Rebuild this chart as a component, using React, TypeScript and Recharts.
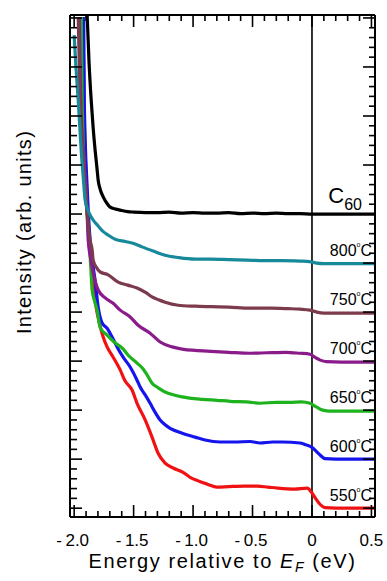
import { LineChart, Line, XAxis, YAxis, ReferenceLine, ReferenceDot } from 'recharts';

const FONT = '"Liberation Sans", Arial, Helvetica, sans-serif';

// axis ticks
const xTicks = [
  -2.0, -1.9, -1.8, -1.7, -1.6, -1.5, -1.4, -1.3, -1.2, -1.1, -1.0, -0.9, -0.8,
  -0.7, -0.6, -0.5, -0.4, -0.3, -0.2, -0.1, 0, 0.1, 0.2, 0.3, 0.4, 0.5,
];
const xMajorTicks = [-2.0, -1.5, -1.0, -0.5, 0, 0.5];
const xTickLabels = ['-2.0', '-1.5', '-1.0', '-0.5', '0', '0.5'];
const yTicks = Array.from({ length: 51 }, (_, i) => Math.round(i * 2) / 10);

// curve labels, placed at the level each spectrum settles to above E_F
const seriesNames = ['C60', '800', '750', '700', '650', '600', '550'];
const labelLevels = [6, 5, 4, 3, 2, 1, 0];
const seriesColors = ['#000000', '#17899b', '#7c3a4d', '#8a1b8a', '#1fb21f', '#1414ee', '#f01212'];

// [energy (eV), intensity (arb., offset)]
const c60: [number, number][] = [
  [-1.905, 10.6], [-1.891, 10.06], [-1.875, 9.1], [-1.857, 8.33], [-1.84, 7.75],
  [-1.824, 7.31], [-1.81, 6.98], [-1.798, 6.69], [-1.778, 6.48], [-1.756, 6.35],
  [-1.725, 6.22], [-1.697, 6.14], [-1.65, 6.1], [-1.613, 6.08], [-1.55, 6.05],
  [-1.5, 6.04], [-1.4, 6.03], [-1.3, 6.03], [-1.2, 6.04], [-1.1, 6.02], [-1.0, 6.03],
  [-0.9, 6.02], [-0.8, 6.02], [-0.7, 6.03], [-0.6, 6.01], [-0.5, 6.02], [-0.4, 6.01],
  [-0.3, 6.02], [-0.2, 6.01], [-0.1, 6.01], [0.0, 6.0], [0.1, 6.0], [0.2, 6.0],
  [0.3, 6.0], [0.4, 6.0], [0.53, 6.0],
];
const t800: [number, number][] = [
  [-2.0, 9.65], [-1.985, 9.0], [-1.966, 8.33], [-1.953, 7.8], [-1.941, 7.31],
  [-1.925, 6.8], [-1.908, 6.29], [-1.888, 6.1], [-1.866, 5.98], [-1.835, 5.86],
  [-1.807, 5.78], [-1.76, 5.65], [-1.714, 5.57], [-1.65, 5.48], [-1.571, 5.44],
  [-1.5, 5.4], [-1.43, 5.33], [-1.33, 5.24], [-1.235, 5.16], [-1.12, 5.11],
  [-0.983, 5.08], [-0.85, 5.08], [-0.7, 5.07], [-0.55, 5.06], [-0.4, 5.05],
  [-0.25, 5.05], [-0.1, 5.04], [-0.02, 5.03], [0.04, 5.0], [0.1, 4.99], [0.2, 4.99],
  [0.35, 4.99], [0.53, 4.99],
];
const t750: [number, number][] = [
  [-1.966, 10.02], [-1.95, 8.33], [-1.925, 7.2], [-1.9, 6.29], [-1.866, 5.47],
  [-1.849, 5.27], [-1.84, 5.06], [-1.815, 4.92], [-1.782, 4.82], [-1.714, 4.76],
  [-1.63, 4.61], [-1.55, 4.55], [-1.471, 4.49], [-1.4, 4.4], [-1.345, 4.31],
  [-1.29, 4.25], [-1.235, 4.2], [-1.126, 4.14], [-0.983, 4.12], [-0.85, 4.11],
  [-0.7, 4.1], [-0.521, 4.08], [-0.35, 4.08], [-0.2, 4.07], [-0.101, 4.06],
  [-0.017, 4.04], [0.04, 4.0], [0.1, 3.98], [0.2, 3.98], [0.35, 3.98], [0.53, 3.98],
];
const t700: [number, number][] = [
  [-1.958, 10.02], [-1.945, 8.33], [-1.92, 7.2], [-1.895, 6.29], [-1.882, 5.47],
  [-1.862, 5.1], [-1.84, 4.8], [-1.798, 4.45], [-1.739, 4.29], [-1.672, 4.18],
  [-1.613, 4.04], [-1.529, 3.9], [-1.462, 3.73], [-1.361, 3.57], [-1.277, 3.39],
  [-1.176, 3.29], [-1.08, 3.24], [-0.983, 3.22], [-0.85, 3.2], [-0.7, 3.18],
  [-0.521, 3.16], [-0.38, 3.17], [-0.22, 3.18], [-0.101, 3.16], [-0.017, 3.14],
  [0.03, 3.07], [0.07, 3.02], [0.12, 2.99], [0.25, 2.98], [0.4, 2.98], [0.53, 2.98],
];
const t650: [number, number][] = [
  [-1.94, 10.02], [-1.933, 8.33], [-1.9, 6.3], [-1.874, 5.47], [-1.86, 4.9],
  [-1.849, 4.45], [-1.828, 4.22], [-1.807, 4.04], [-1.782, 3.69], [-1.723, 3.53],
  [-1.655, 3.37], [-1.597, 3.27], [-1.546, 3.12], [-1.471, 2.96], [-1.42, 2.84],
  [-1.387, 2.72], [-1.345, 2.55], [-1.29, 2.45], [-1.235, 2.37], [-1.16, 2.31],
  [-1.092, 2.27], [-0.924, 2.22], [-0.8, 2.2], [-0.689, 2.18], [-0.55, 2.17],
  [-0.437, 2.14], [-0.3, 2.16], [-0.185, 2.16], [-0.09, 2.17], [-0.017, 2.14],
  [0.04, 2.06], [0.09, 2.0], [0.15, 1.98], [0.3, 1.98], [0.53, 1.98],
];
const t600: [number, number][] = [
  [-1.92, 10.02], [-1.915, 8.33], [-1.89, 6.5], [-1.866, 5.47], [-1.845, 5.0],
  [-1.824, 4.65], [-1.798, 4.1], [-1.765, 3.78], [-1.723, 3.67], [-1.681, 3.49],
  [-1.639, 3.29], [-1.588, 3.08], [-1.529, 2.88], [-1.471, 2.61], [-1.445, 2.47],
  [-1.4, 2.3], [-1.361, 2.14], [-1.32, 1.96], [-1.277, 1.8], [-1.235, 1.7],
  [-1.193, 1.63], [-1.092, 1.53], [-0.983, 1.45], [-0.899, 1.39], [-0.773, 1.35],
  [-0.65, 1.35], [-0.52, 1.36], [-0.437, 1.33], [-0.33, 1.35], [-0.25, 1.35],
  [-0.101, 1.33], [-0.06, 1.3], [0.0, 1.24], [0.04, 1.15], [0.07, 1.08], [0.11, 1.01],
  [0.2, 1.0], [0.35, 1.0], [0.53, 1.0],
];
const t550: [number, number][] = [
  [-1.925, 10.02], [-1.918, 8.33], [-1.895, 6.5], [-1.872, 5.47], [-1.845, 4.7],
  [-1.815, 4.1], [-1.785, 3.75], [-1.756, 3.49], [-1.723, 3.29], [-1.672, 3.08],
  [-1.613, 2.82], [-1.575, 2.61], [-1.513, 2.41], [-1.471, 2.14], [-1.403, 1.8],
  [-1.345, 1.45], [-1.294, 1.12], [-1.235, 0.92], [-1.168, 0.82], [-1.084, 0.73],
  [-1.025, 0.63], [-0.95, 0.55], [-0.88, 0.49], [-0.8, 0.43], [-0.7, 0.44],
  [-0.57, 0.45], [-0.46, 0.45], [-0.37, 0.43], [-0.29, 0.41], [-0.15, 0.39],
  [-0.04, 0.41], [0.0, 0.31], [0.03, 0.2], [0.06, 0.1], [0.11, 0.01], [0.2, 0.0],
  [0.35, 0.0], [0.53, 0.0],
];

// drawn back to front: 550 first, C60 last
const series = [t550, t600, t650, t700, t750, t800, c60];
const seriesOrder = [6, 5, 4, 3, 2, 1, 0];

const X_DOMAIN: [number, number] = [-2.035, 0.53];
const Y_DOMAIN: [number, number] = [-0.18, 10.06];

const toPoints = (d: [number, number][]) => d.map(([x, y]) => ({ x, y }));
const isHalf = (v: number) => Math.abs(v * 2 - Math.round(v * 2)) < 1e-6;
const isWhole = (v: number) => Math.abs(v - Math.round(v)) < 1e-6;

const BottomTick = (props: any) => {
  const { x, y, payload } = props;
  const major = isHalf(payload.value);
  const idx = xMajorTicks.findIndex((t) => Math.abs(t - payload.value) < 1e-6);
  const label = idx >= 0 ? xTickLabels[idx] : '';
  const neg = label.startsWith('-');
  return (
    <g>
      <line x1={x} y1={y} x2={x} y2={y - (major ? 12 : 6)} stroke="#000" strokeWidth={1.6} />
      {major && idx >= 0 && (
        <text x={neg ? x - 1.5 : x} y={y + 29} textAnchor="middle" fontSize={17} fontFamily={FONT} fill="#000">
          {neg ? (
            <>
              -<tspan dx={3.5}>{label.slice(1)}</tspan>
            </>
          ) : (
            label
          )}
        </text>
      )}
    </g>
  );
};

const TopTick = (props: any) => {
  const { x, y, payload } = props;
  const major = isHalf(payload.value);
  return <line x1={x} y1={y} x2={x} y2={y + (major ? 12 : 6)} stroke="#000" strokeWidth={1.6} />;
};

const LeftTick = (props: any) => {
  const { x, y, payload } = props;
  const major = isWhole(payload.value);
  return <line x1={x} y1={y} x2={x + (major ? 12 : 7)} y2={y} stroke="#000" strokeWidth={1.6} />;
};

const RightTick = (props: any) => {
  const { x, y, payload } = props;
  const major = isWhole(payload.value);
  return <line x1={x} y1={y} x2={x - (major ? 12 : 6)} y2={y} stroke="#000" strokeWidth={1.6} />;
};

const xTitle = (props: any) => {
  const vb = props.viewBox || { x: 70, y: 517, width: 305, height: 1 };
  return (
    <text
      x={vb.x + vb.width / 2}
      y={568}
      textAnchor="middle"
      fontSize={20}
      letterSpacing={1.6}
      fontFamily={FONT}
      fill="#000"
    >
      Energy relative to <tspan fontStyle="italic">E</tspan>
      <tspan fontStyle="italic" fontSize={14} dy={4}>F</tspan>
      <tspan dy={-4}> (eV)</tspan>
    </text>
  );
};

const yTitle = () => {
  const tx = 31;
  const ty = 232;
  return (
    <text
      x={tx}
      y={ty}
      transform={`rotate(-90, ${tx}, ${ty})`}
      textAnchor="middle"
      fontSize={20}
      letterSpacing={1.3}
      fontFamily={FONT}
      fill="#000"
    >
      Intensity (arb. units)
    </text>
  );
};

const seriesLabel = (i: number) => (props: any) => {
  const vb = props.viewBox || { x: 375, y: 0 };
  const cx = vb.x;
  const cy = vb.y;
  if (i === 0) {
    return (
      <text x={cx - 13} y={cy - 11} textAnchor="end" fontSize={22} fontFamily={FONT} fill="#000">
        C<tspan fontSize={16} dy={7}>60</tspan>
      </text>
    );
  }
  return (
    <text x={cx - 3} y={cy - 7} textAnchor="end" fontSize={16} fontFamily={FONT} fill="#000">
      {seriesNames[i]}
      <tspan fontSize={7} dy={-9}>o</tspan>
      <tspan dy={9}>C</tspan>
    </text>
  );
};

export default function App() {
  return (
    <div style={{ position: 'absolute', left: 0, top: 0, background: '#fff' }}>
      <LineChart width={387} height={581} margin={{ top: 14, right: 11, bottom: 63, left: 69 }}>
        <XAxis
          xAxisId="b"
          dataKey="x"
          type="number"
          domain={X_DOMAIN}
          allowDataOverflow
          ticks={xTicks}
          interval={0}
          height={1}
          tickSize={0}
          tickMargin={0}
          tickLine={false}
          tick={BottomTick}
          axisLine={{ stroke: '#000', strokeWidth: 2 }}
          label={xTitle}
        />
        <XAxis
          xAxisId="t"
          orientation="top"
          dataKey="x"
          type="number"
          domain={X_DOMAIN}
          allowDataOverflow
          ticks={xTicks}
          interval={0}
          height={1}
          tickSize={0}
          tickMargin={0}
          tickLine={false}
          tick={TopTick}
          axisLine={{ stroke: '#000', strokeWidth: 2 }}
        />
        <YAxis
          yAxisId="l"
          type="number"
          domain={Y_DOMAIN}
          allowDataOverflow
          ticks={yTicks}
          interval={0}
          width={1}
          tickSize={0}
          tickMargin={0}
          tickLine={false}
          tick={LeftTick}
          axisLine={{ stroke: '#000', strokeWidth: 2 }}
          label={yTitle}
        />
        <YAxis
          yAxisId="r"
          orientation="right"
          type="number"
          domain={Y_DOMAIN}
          allowDataOverflow
          ticks={yTicks}
          interval={0}
          width={1}
          tickSize={0}
          tickMargin={0}
          tickLine={false}
          tick={RightTick}
          axisLine={{ stroke: '#000', strokeWidth: 2 }}
        />
        <ReferenceLine x={0} xAxisId="b" yAxisId="l" stroke="#000" strokeWidth={1.6} />
        {series.map((d, k) => (
          <Line
            key={seriesNames[seriesOrder[k]]}
            data={toPoints(d)}
            dataKey="y"
            xAxisId="b"
            yAxisId="l"
            type="monotone"
            dot={false}
            stroke={seriesColors[seriesOrder[k]]}
            strokeWidth={3.2}
            isAnimationActive={false}
          />
        ))}
        {labelLevels.map((lv, i) => (
          <ReferenceDot
            key={`lbl-${seriesNames[i]}`}
            x={X_DOMAIN[1]}
            y={lv}
            xAxisId="b"
            yAxisId="l"
            r={0}
            fill="none"
            stroke="none"
            ifOverflow="visible"
            label={seriesLabel(i)}
          />
        ))}
      </LineChart>
    </div>
  );
}
